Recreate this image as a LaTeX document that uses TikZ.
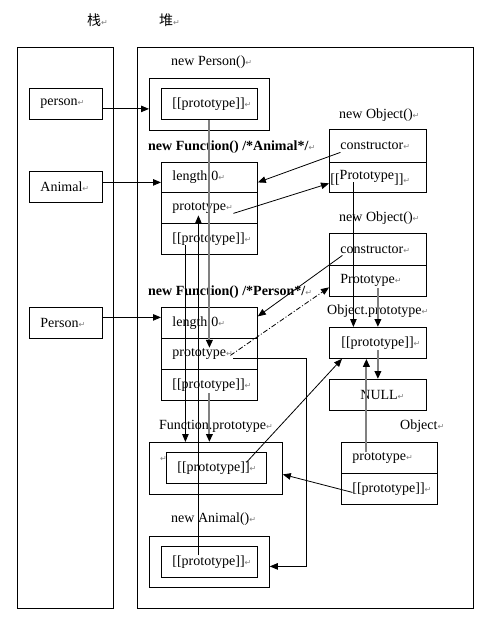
\documentclass[tikz,border=0pt]{standalone}
\usepackage{fontspec}
\setmainfont{Liberation Serif}
\newfontfamily\cjkf{Noto Sans CJK SC}
\newfontfamily\symf{DejaVu Sans}
\usetikzlibrary{arrows.meta}
\newcommand{\rt}{{\color{gray}\symf\fontsize{8}{8}\selectfont ↵}}
\begin{document}
\begin{tikzpicture}[x=1pt,y=-1pt,
  every node/.style={font=\fontsize{14}{16}\selectfont},
  lbl/.style={inner sep=0pt, anchor=west},
  frame/.style={draw, line width=0.8pt, anchor=north west, inner sep=0pt},
  cell/.style={draw, line width=0.8pt, anchor=north west, align=left, inner xsep=11pt, inner ysep=0pt},
  ln/.style={line width=0.8pt, -{Triangle[length=8pt,width=6.5pt]}},
  gln/.style={line width=2pt, draw=black!50, -{Triangle[length=8pt,width=6.5pt,color=black]}},
  dd/.style={line width=0.8pt, dash pattern=on 5pt off 2pt on 1pt off 2pt, -{Triangle[length=8pt,width=6.5pt]}}]
\useasboundingbox[fill=white] (0,0) rectangle (500,628);

% containers
\node[frame, minimum width=96pt, minimum height=561pt] (stack) at (17,47) {};
\node[frame, minimum width=336pt, minimum height=561pt] (heap) at (137,47) {};
\node[lbl] (lz) at (87,20) {\cjkf 栈\rt};
\node[lbl] (ld) at (159,20) {\cjkf 堆\rt};

% stack
\node[cell, text width=51pt, minimum height=31pt] (sPerson) at (29,88) {person\rt};
\node[cell, text width=51pt, minimum height=31pt] (sAnimal) at (29,171) {Animal\rt};
\node[cell, text width=51pt, minimum height=31pt] (sPersonF) at (29,307) {Person\rt};

% new Person()
\node[lbl] (lNP) at (171,62) {new Person()\rt};
\node[frame, minimum width=120pt, minimum height=52pt] (npOut) at (149,78) {};
\node[cell, text width=74pt, minimum height=31pt] (npIn) at (161,88) {[[prototype]]\rt};

% Animal function
\node[lbl] (lFA) at (148,147) {\textbf{new Function() /*Animal*/}\rt};
\node[cell, text width=74pt, minimum height=30pt] (aLen) at (161,162) {length:0\rt};
\node[cell, text width=74pt, minimum height=31pt] (aProto) at (161,192) {prototype\rt};
\node[cell, text width=74pt, minimum height=31pt] (aPP) at (161,223) {[[prototype]]\rt};

% new Object() 1
\node[lbl] (lO1) at (339,115) {new Object()\rt};
\node[cell, text width=75pt, minimum height=33pt] (o1C) at (329,129) {constructor\rt};
\node[cell, inner xsep=1pt, text width=95pt, minimum height=30pt] (o1P) at (329,162) {[[\raisebox{4pt}{Prototype}]]\rt};

% new Object() 2
\node[lbl] (lO2) at (339,218) {new Object()\rt};
\node[cell, text width=75pt, minimum height=32pt] (o2C) at (329,233) {constructor\rt};
\node[cell, text width=75pt, minimum height=31pt] (o2P) at (329,265) {Prototype\rt};

% Person function
\node[lbl] (lFP) at (148,292) {\textbf{new Function() /*Person*/}\rt};
\node[cell, text width=74pt, minimum height=31pt] (pLen) at (161,307) {length:0\rt};
\node[cell, text width=74pt, minimum height=31pt] (pProto) at (161,338) {prototype\rt};
\node[cell, text width=74pt, minimum height=31pt] (pPP) at (161,369) {[[prototype]]\rt};

% Object.prototype
\node[lbl] (lOP) at (327,311) {Object.prototype\rt};
\node[cell, inner xsep=12pt, text width=73pt, minimum height=31pt] (opBox) at (329,327) {[[prototype]]\rt};
\node[cell, text width=75pt, minimum height=31pt] (nullBox) at (329,379) {\hspace*{20pt}NULL\rt};

% Function.prototype
\node[lbl] (lFPr) at (159,426) {Function.prototype\rt};
\node[frame, minimum width=133pt, minimum height=52pt] (fpOut) at (149,442) {};
\node[cell, text width=78pt, minimum height=31pt] (fpIn) at (166,452) {[[prototype]]\rt};
\node[lbl] (fpMark) at (160,459) {\rt};

% Object
\node[lbl] (lOb) at (400,426) {Object\rt};
\node[cell, text width=74pt, minimum height=31pt] (obP) at (341,442) {prototype\rt};
\node[cell, text width=74pt, minimum height=31pt] (obPP) at (341,473) {[[prototype]]\rt};

% new Animal()
\node[lbl] (lNA) at (171,519) {new Animal()\rt};
\node[frame, minimum width=120pt, minimum height=51pt] (naOut) at (149,536) {};
\node[cell, text width=74pt, minimum height=31pt] (naIn) at (161,546) {[[prototype]]\rt};

% connectors
\draw[ln] ([yshift=-5pt]sPerson.east) -- ([yshift=-5pt]sPerson.east -| npOut.west);
\draw[ln] ([yshift=4.5pt]sAnimal.east) -- ([yshift=4.5pt]sAnimal.east -| aLen.west);
\draw[ln] ([yshift=5.5pt]sPersonF.east) -- ([yshift=5.5pt]sPersonF.east -| pLen.west);

\draw[gln] (npIn.south) -- ([yshift=6pt]pProto.center);
\draw[gln] ([yshift=-8.5pt]pPP.center) -- (pPP.center |- fpOut.north);

\draw[ln] ([xshift=-24pt,yshift=-6.5pt]aPP.center) -- ([xshift=-24pt]aPP.center |- fpOut.north);
\draw[ln] ([xshift=-11pt,yshift=6.5pt]naIn.center) -- ([xshift=-11pt,yshift=-7.5pt]aProto.center);

\draw[ln] ([xshift=-37.5pt,yshift=-6.5pt]o1C.center) -- ([yshift=-5pt]aLen.east);
\draw[ln] ([xshift=24pt,yshift=-5.5pt]aProto.center) -- ([yshift=-6pt]o1P.west);
\draw[ln] ([xshift=-24.5pt,yshift=-5pt]o1P.center) -- ([xshift=-24.5pt]o1P.center |- opBox.north);

\draw[ln] ([xshift=-35.5pt,yshift=-6pt]o2C.center) -- ([yshift=6.5pt]pLen.east);
\draw[dd] ([xshift=21pt,yshift=-1.5pt]pProto.center) -- ([yshift=-6.5pt]o2P.west);

\draw[gln] ([yshift=-7.5pt]o2P.center) -- (o2P.center |- opBox.north);
\draw[gln] ([yshift=-7.5pt]opBox.center) -- (opBox.center |- nullBox.north);
\draw[gln] ([xshift=-23pt,yshift=5.5pt]obP.center) -- ([xshift=-23pt]obP.center |- opBox.south);

\draw[ln] ([xshift=30pt,yshift=5.5pt]fpIn.center) -- ([xshift=13pt]opBox.south west);
\draw[ln] ([xshift=-37pt,yshift=-3.5pt]obPP.center) -- ([yshift=-6pt]fpOut.east);
\draw[ln] ([xshift=24pt,yshift=-4.5pt]pProto.center) -| ([xshift=37pt,yshift=-4.5pt]naOut.east) -- ([yshift=-4.5pt]naOut.east);
\end{tikzpicture}
\end{document}
